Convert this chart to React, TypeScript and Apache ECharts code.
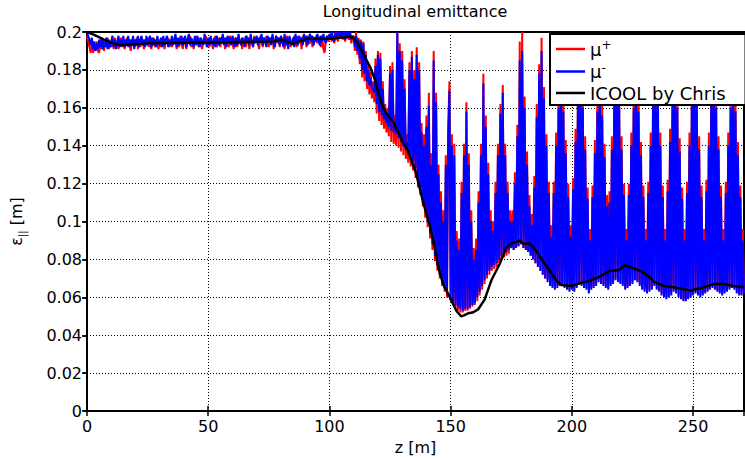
import React, { useEffect, useRef } from "react";
import * as echarts from "echarts";

const FONT = "DejaVu Sans";
const Z_STEP = 0.5; // sampling step of the tracking output [m]
const X_MAX = 271;
const Y_MAX = 0.2;

// mu+ (red) emittance, one value per 0.5 m starting at z = 0
const MU_PLUS = [
  0.198, 0.195, 0.192, 0.189, 0.194, 0.189, 0.192, 0.19, 0.195, 0.19,
  0.189, 0.194, 0.191, 0.196, 0.19, 0.194, 0.192, 0.197, 0.191, 0.194,
  0.192, 0.196, 0.191, 0.197, 0.192, 0.195, 0.191, 0.194, 0.197, 0.192,
  0.196, 0.191, 0.194, 0.197, 0.192, 0.196, 0.19, 0.194, 0.197, 0.192,
  0.194, 0.197, 0.191, 0.196, 0.192, 0.197, 0.194, 0.191, 0.196, 0.194,
  0.197, 0.192, 0.195, 0.191, 0.194, 0.197, 0.192, 0.196, 0.194, 0.191,
  0.196, 0.192, 0.197, 0.194, 0.191, 0.196, 0.194, 0.197, 0.192, 0.195,
  0.192, 0.196, 0.194, 0.197, 0.191, 0.196, 0.192, 0.198, 0.194, 0.191,
  0.197, 0.194, 0.191, 0.196, 0.194, 0.198, 0.192, 0.196, 0.191, 0.197,
  0.194, 0.196, 0.192, 0.197, 0.194, 0.191, 0.196, 0.194, 0.198, 0.192,
  0.196, 0.192, 0.197, 0.194, 0.191, 0.196, 0.198, 0.192, 0.194, 0.197,
  0.192, 0.197, 0.194, 0.196, 0.191, 0.197, 0.194, 0.192, 0.198, 0.195,
  0.194, 0.191, 0.197, 0.195, 0.192, 0.198, 0.194, 0.196, 0.191, 0.197,
  0.195, 0.192, 0.198, 0.194, 0.191, 0.197, 0.195, 0.192, 0.198, 0.194,
  0.197, 0.194, 0.191, 0.198, 0.195, 0.192, 0.197, 0.194, 0.198, 0.195,
  0.192, 0.197, 0.194, 0.198, 0.191, 0.195, 0.198, 0.194, 0.197, 0.192,
  0.198, 0.194, 0.197, 0.191, 0.195, 0.198, 0.194, 0.197, 0.192, 0.195,
  0.194, 0.198, 0.195, 0.192, 0.198, 0.194, 0.197, 0.191, 0.198, 0.195,
  0.197, 0.192, 0.198, 0.195, 0.194, 0.198, 0.192, 0.197, 0.195, 0.198,
  0.194, 0.198, 0.195, 0.192, 0.198, 0.191, 0.189, 0.196, 0.198, 0.195,
  0.197, 0.199, 0.195, 0.198, 0.194, 0.2, 0.197, 0.195, 0.199, 0.198,
  0.2, 0.196, 0.199, 0.195, 0.2, 0.198, 0.196, 0.199, 0.194, 0.197,
  0.198, 0.19, 0.2, 0.188, 0.197, 0.183, 0.196, 0.176, 0.195, 0.174,
  0.19, 0.17, 0.183, 0.167, 0.179, 0.165, 0.174, 0.163, 0.186, 0.157,
  0.19, 0.153, 0.189, 0.151, 0.174, 0.149, 0.162, 0.147, 0.16, 0.145,
  0.182, 0.142, 0.184, 0.141, 0.156, 0.14, 0.2, 0.139, 0.194, 0.137,
  0.19, 0.135, 0.175, 0.133, 0.146, 0.131, 0.184, 0.129, 0.19, 0.127,
  0.18, 0.123, 0.192, 0.118, 0.184, 0.114, 0.152, 0.108, 0.146, 0.102,
  0.156, 0.097, 0.168, 0.091, 0.136, 0.085, 0.19, 0.079, 0.168, 0.074,
  0.13, 0.07, 0.116, 0.066, 0.106, 0.063, 0.135, 0.06, 0.15, 0.174,
  0.058, 0.146, 0.056, 0.141, 0.054, 0.095, 0.053, 0.091, 0.052, 0.121,
  0.052, 0.141, 0.053, 0.163, 0.053, 0.136, 0.054, 0.106, 0.055, 0.086,
  0.056, 0.091, 0.058, 0.116, 0.061, 0.141, 0.064, 0.178, 0.067, 0.156,
  0.07, 0.131, 0.072, 0.106, 0.074, 0.1, 0.075, 0.121, 0.076, 0.141,
  0.078, 0.162, 0.08, 0.172, 0.081, 0.141, 0.082, 0.121, 0.083, 0.106,
  0.086, 0.106, 0.085, 0.126, 0.086, 0.151, 0.087, 0.195, 0.088, 0.2,
  0.086, 0.166, 0.085, 0.137, 0.084, 0.114, 0.082, 0.104, 0.08, 0.124,
  0.078, 0.162, 0.076, 0.183, 0.074, 0.197, 0.072, 0.171, 0.07, 0.146,
  0.069, 0.121, 0.067, 0.098, 0.066, 0.121, 0.065, 0.147, 0.066, 0.167,
  0.067, 0.186, 0.067, 0.165, 0.066, 0.143, 0.065, 0.12, 0.064, 0.098,
  0.065, 0.123, 0.064, 0.149, 0.066, 0.172, 0.068, 0.191, 0.067, 0.167,
  0.066, 0.145, 0.065, 0.118, 0.063, 0.096, 0.065, 0.119, 0.066, 0.143,
  0.067, 0.165, 0.069, 0.186, 0.068, 0.163, 0.067, 0.141, 0.066, 0.114,
  0.065, 0.116, 0.067, 0.145, 0.068, 0.172, 0.07, 0.196, 0.069, 0.169,
  0.068, 0.145, 0.067, 0.12, 0.065, 0.096, 0.066, 0.12, 0.067, 0.147,
  0.068, 0.167, 0.07, 0.186, 0.069, 0.165, 0.067, 0.142, 0.065, 0.119,
  0.064, 0.096, 0.063, 0.121, 0.064, 0.147, 0.065, 0.172, 0.067, 0.196,
  0.065, 0.169, 0.064, 0.147, 0.062, 0.119, 0.061, 0.096, 0.06, 0.122,
  0.061, 0.149, 0.062, 0.169, 0.064, 0.191, 0.063, 0.167, 0.061, 0.144,
  0.06, 0.118, 0.059, 0.096, 0.059, 0.121, 0.06, 0.147, 0.061, 0.172,
  0.062, 0.196, 0.063, 0.169, 0.062, 0.145, 0.061, 0.119, 0.062, 0.096,
  0.063, 0.122, 0.064, 0.147, 0.065, 0.17, 0.066, 0.191, 0.065, 0.167,
  0.064, 0.145, 0.063, 0.119, 0.062, 0.096, 0.063, 0.121, 0.064, 0.147,
  0.065, 0.167, 0.066, 0.186, 0.065, 0.165, 0.063, 0.142, 0.062, 0.119,
  0.062, 0.096, 0.063,
];

// mu- (blue) emittance, one value per 0.5 m starting at z = 0
const MU_MINUS = [
  0.199, 0.198, 0.196, 0.193, 0.197, 0.191, 0.195, 0.19, 0.194, 0.191,
  0.196, 0.192, 0.197, 0.191, 0.195, 0.192, 0.197, 0.191, 0.196, 0.192,
  0.195, 0.198, 0.192, 0.196, 0.191, 0.195, 0.198, 0.192, 0.196, 0.193,
  0.198, 0.192, 0.196, 0.193, 0.198, 0.192, 0.196, 0.193, 0.198, 0.191,
  0.196, 0.193, 0.198, 0.192, 0.196, 0.198, 0.193, 0.196, 0.192, 0.198,
  0.193, 0.196, 0.198, 0.192, 0.197, 0.193, 0.196, 0.192, 0.198, 0.194,
  0.193, 0.197, 0.192, 0.198, 0.193, 0.196, 0.198, 0.192, 0.196, 0.193,
  0.198, 0.193, 0.196, 0.199, 0.192, 0.197, 0.193, 0.196, 0.198, 0.193,
  0.196, 0.198, 0.192, 0.196, 0.199, 0.193, 0.197, 0.195, 0.192, 0.198,
  0.193, 0.198, 0.195, 0.192, 0.197, 0.195, 0.193, 0.199, 0.195, 0.192,
  0.197, 0.193, 0.198, 0.195, 0.193, 0.197, 0.192, 0.198, 0.195, 0.193,
  0.197, 0.195, 0.199, 0.193, 0.197, 0.192, 0.198, 0.195, 0.197, 0.193,
  0.198, 0.195, 0.192, 0.197, 0.193, 0.199, 0.195, 0.193, 0.197, 0.195,
  0.192, 0.198, 0.195, 0.197, 0.193, 0.199, 0.195, 0.192, 0.197, 0.195,
  0.198, 0.193, 0.197, 0.195, 0.199, 0.193, 0.197, 0.195, 0.192, 0.198,
  0.195, 0.197, 0.193, 0.199, 0.195, 0.192, 0.198, 0.195, 0.197, 0.193,
  0.198, 0.195, 0.192, 0.199, 0.193, 0.197, 0.191, 0.198, 0.195, 0.193,
  0.197, 0.192, 0.199, 0.195, 0.193, 0.198, 0.195, 0.197, 0.193, 0.199,
  0.195, 0.198, 0.193, 0.197, 0.199, 0.195, 0.198, 0.193, 0.197, 0.195,
  0.199, 0.196, 0.193, 0.198, 0.195, 0.199, 0.196, 0.194, 0.198, 0.196,
  0.199, 0.196, 0.2, 0.197, 0.195, 0.2, 0.197, 0.199, 0.2, 0.197,
  0.2, 0.198, 0.2, 0.196, 0.2, 0.2, 0.197, 0.2, 0.196, 0.198,
  0.197, 0.192, 0.198, 0.19, 0.196, 0.186, 0.195, 0.18, 0.194, 0.178,
  0.188, 0.174, 0.18, 0.172, 0.176, 0.17, 0.17, 0.168, 0.182, 0.162,
  0.188, 0.158, 0.186, 0.156, 0.17, 0.154, 0.158, 0.152, 0.156, 0.15,
  0.178, 0.148, 0.18, 0.147, 0.152, 0.146, 0.2, 0.144, 0.19, 0.142,
  0.185, 0.14, 0.17, 0.138, 0.142, 0.136, 0.18, 0.134, 0.187, 0.132,
  0.175, 0.128, 0.188, 0.122, 0.18, 0.118, 0.147, 0.112, 0.14, 0.106,
  0.15, 0.1, 0.161, 0.094, 0.13, 0.088, 0.185, 0.082, 0.163, 0.077,
  0.125, 0.072, 0.11, 0.068, 0.1, 0.065, 0.13, 0.062, 0.145, 0.169,
  0.06, 0.14, 0.058, 0.135, 0.056, 0.09, 0.055, 0.085, 0.054, 0.115,
  0.053, 0.135, 0.054, 0.158, 0.054, 0.13, 0.055, 0.1, 0.056, 0.08,
  0.057, 0.085, 0.06, 0.11, 0.063, 0.135, 0.066, 0.173, 0.069, 0.15,
  0.072, 0.125, 0.074, 0.1, 0.076, 0.095, 0.077, 0.115, 0.078, 0.135,
  0.08, 0.157, 0.082, 0.168, 0.083, 0.135, 0.084, 0.115, 0.085, 0.1,
  0.086, 0.1, 0.085, 0.12, 0.086, 0.145, 0.087, 0.185, 0.088, 0.19,
  0.086, 0.16, 0.085, 0.13, 0.084, 0.108, 0.082, 0.098, 0.08, 0.118,
  0.078, 0.155, 0.076, 0.178, 0.074, 0.19, 0.072, 0.165, 0.07, 0.14,
  0.068, 0.115, 0.066, 0.092, 0.065, 0.115, 0.064, 0.14, 0.065, 0.16,
  0.066, 0.18, 0.066, 0.158, 0.065, 0.136, 0.064, 0.113, 0.063, 0.092,
  0.064, 0.117, 0.063, 0.142, 0.065, 0.165, 0.067, 0.185, 0.066, 0.16,
  0.065, 0.138, 0.064, 0.112, 0.062, 0.09, 0.064, 0.113, 0.065, 0.136,
  0.066, 0.158, 0.068, 0.18, 0.067, 0.156, 0.066, 0.134, 0.065, 0.108,
  0.064, 0.11, 0.066, 0.138, 0.067, 0.165, 0.069, 0.19, 0.068, 0.162,
  0.067, 0.138, 0.066, 0.114, 0.064, 0.09, 0.065, 0.114, 0.066, 0.14,
  0.067, 0.16, 0.069, 0.18, 0.068, 0.158, 0.066, 0.135, 0.064, 0.113,
  0.063, 0.09, 0.062, 0.115, 0.063, 0.14, 0.064, 0.165, 0.066, 0.19,
  0.064, 0.162, 0.063, 0.14, 0.061, 0.113, 0.06, 0.09, 0.059, 0.116,
  0.06, 0.142, 0.061, 0.162, 0.063, 0.185, 0.062, 0.16, 0.06, 0.137,
  0.059, 0.112, 0.058, 0.09, 0.058, 0.115, 0.059, 0.14, 0.06, 0.165,
  0.061, 0.19, 0.062, 0.162, 0.061, 0.138, 0.06, 0.113, 0.061, 0.09,
  0.062, 0.116, 0.063, 0.14, 0.064, 0.163, 0.065, 0.185, 0.064, 0.16,
  0.063, 0.138, 0.062, 0.113, 0.061, 0.09, 0.062, 0.115, 0.063, 0.14,
  0.064, 0.16, 0.065, 0.18, 0.064, 0.158, 0.062, 0.135, 0.061, 0.113,
  0.061, 0.09, 0.062,
];

// ICOOL reference curve (black)
const ICOOL_Z = [
  0, 3, 7, 11, 14, 20, 25, 35, 45, 52, 60, 70, 77, 79.8, 82, 85, 87, 90.7, 96,
  101.6, 104.4, 107, 108.5, 110.6, 113.4, 116.8, 118.8, 120.2, 121.6, 123.6,
  126.4, 128.4, 130.5, 132.5, 133.9, 135.7, 138.7, 141.4, 143.5, 144.9, 146.9,
  149.7, 152.4, 154.4, 155.5, 157.2, 159, 161.3, 164, 166.8, 170.2, 173, 175,
  177.1, 178.5, 179.8, 182.6, 185.3, 188, 190.8, 193.5, 195.6, 199.7, 203.1,
  207.2, 211.3, 215.5, 219.6, 221.6, 225, 229.1, 231.9, 233.9, 238, 242.1,
  246.2, 249, 253.1, 258.6, 262.7, 266.8, 271,
];
const ICOOL_EMIT = [
  0.2, 0.1985, 0.196, 0.194, 0.193, 0.1935, 0.194, 0.1942, 0.1944, 0.1945,
  0.1946, 0.1948, 0.195, 0.1959, 0.1952, 0.1938, 0.1948, 0.1964, 0.1964,
  0.1966, 0.197, 0.1972, 0.1978, 0.196, 0.19, 0.1815, 0.1748, 0.1678, 0.1618,
  0.1567, 0.1524, 0.1472, 0.1413, 0.137, 0.1318, 0.1258, 0.11, 0.098, 0.086,
  0.076, 0.067, 0.06, 0.0528, 0.05, 0.0505, 0.0516, 0.052, 0.0536, 0.0588,
  0.069, 0.0776, 0.0862, 0.0885, 0.0893, 0.09, 0.0883, 0.0885, 0.0845, 0.0793,
  0.0742, 0.069, 0.0665, 0.066, 0.0673, 0.0687, 0.0708, 0.0739, 0.0745,
  0.0768, 0.0756, 0.0734, 0.0708, 0.0682, 0.066, 0.0653, 0.0643, 0.0636,
  0.0648, 0.067, 0.067, 0.066, 0.0653,
];

const SERIES_NAMES = ["μ+", "μ-", "ICOOL by Chris"];

const toPoints = (vals: number[]) => vals.map((v, i) => [i * Z_STEP, v]);

export default function App() {
  const ref = useRef<HTMLDivElement>(null);

  useEffect(() => {
    if (!ref.current) return;
    const chart = echarts.init(ref.current, null, { renderer: "svg" });
    const axisLine = { show: true, lineStyle: { color: "#000", width: 2 } };
    const split = {
      show: true,
      lineStyle: { color: "#000", width: 1, type: [1, 2] as any },
    };
    const option: any = {
      animation: false,
      backgroundColor: "#fff",
      textStyle: { fontFamily: FONT },
      title: {
        text: "Longitudinal emittance",
        left: 415,
        top: 3,
        textAlign: "center",
        padding: 0,
        textStyle: { fontSize: 16, fontWeight: "normal", color: "#000", fontFamily: FONT },
      },
      grid: {
        left: 86,
        right: 1,
        top: 32,
        bottom: 39,
        show: true,
        borderColor: "#000",
        borderWidth: 2,
        backgroundColor: "transparent",
      },
      legend: {
        orient: "vertical",
        left: 550,
        top: 34,
        data: SERIES_NAMES,
        icon: "rect",
        itemWidth: 29,
        itemHeight: 2.5,
        itemGap: 3.5,
        padding: [5, 20, 3, 6],
        backgroundColor: "#fff",
        borderColor: "#000",
        borderWidth: 2,
        borderRadius: 0,
        selectedMode: false,
        formatter: (name: string) =>
          name === "μ+" ? "{t|μ}{s|+}" : name === "μ-" ? "{t|μ}{s|-}" : "{t|" + name + "}",
        textStyle: {
          color: "#000",
          fontFamily: FONT,
          fontSize: 18,
          rich: {
            t: { fontSize: 18, lineHeight: 20, fontFamily: FONT, color: "#000" },
            s: { fontSize: 12, lineHeight: 12, verticalAlign: "top", fontFamily: FONT, color: "#000" },
          },
        },
      },
      xAxis: [
        {
          type: "value",
          min: 0,
          max: X_MAX,
          interval: 50,
          position: "bottom",
          name: "z [m]",
          nameLocation: "middle",
          nameGap: 22,
          nameTextStyle: { fontSize: 16, color: "#000", fontFamily: FONT },
          axisLine,
          axisTick: { show: true, inside: true, length: 5, lineStyle: { color: "#000", width: 1.5 } },
          axisLabel: { color: "#000", fontSize: 16, margin: 7, fontFamily: FONT, showMaxLabel: false },
          splitLine: split,
        },
        {
          type: "value",
          min: 0,
          max: X_MAX,
          interval: 50,
          position: "top",
          axisLine,
          axisTick: { show: true, inside: true, length: 5, lineStyle: { color: "#000", width: 1.5 } },
          axisLabel: { show: false },
          splitLine: { show: false },
        },
      ],
      yAxis: [
        {
          type: "value",
          min: 0,
          max: Y_MAX,
          interval: 0.02,
          position: "left",
          name: "{e|ε}{s|||}{e| [m]}",
          nameLocation: "middle",
          nameRotate: 90,
          nameGap: 60,
          nameTextStyle: {
            color: "#000",
            fontFamily: FONT,
            fontSize: 16,
            rich: {
              e: { fontSize: 16, lineHeight: 22, fontFamily: FONT, color: "#000" },
              s: { fontSize: 10, lineHeight: 10, verticalAlign: "bottom", fontFamily: FONT, color: "#000" },
            },
          },
          axisLine,
          axisTick: { show: true, inside: false, length: 4, lineStyle: { color: "#000", width: 1.5 } },
          axisLabel: { color: "#000", fontSize: 16, margin: 5, fontFamily: FONT },
          splitLine: split,
        },
        {
          type: "value",
          min: 0,
          max: Y_MAX,
          interval: 0.02,
          position: "right",
          axisLine,
          axisTick: { show: true, inside: true, length: 5, lineStyle: { color: "#000", width: 1.5 } },
          axisLabel: { show: false },
          splitLine: { show: false },
        },
      ],
      series: [
        {
          name: "μ+",
          type: "line",
          data: toPoints(MU_PLUS),
          showSymbol: false,
          symbol: "none",
          progressive: 0,
          color: "#ff0000",
          lineStyle: { color: "#ff0000", width: 2 },
          z: 2,
        },
        {
          name: "μ-",
          type: "line",
          data: toPoints(MU_MINUS),
          showSymbol: false,
          symbol: "none",
          progressive: 0,
          color: "#0000ff",
          lineStyle: { color: "#0000ff", width: 2 },
          z: 3,
        },
        {
          name: "ICOOL by Chris",
          type: "line",
          data: ICOOL_Z.map((z, i) => [z, ICOOL_EMIT[i]]),
          showSymbol: false,
          symbol: "none",
          color: "#000",
          lineStyle: { color: "#000", width: 2.5 },
          z: 4,
        },
      ],
    };
    chart.setOption(option);
    return () => chart.dispose();
  }, []);

  return (
    <div
      ref={ref}
      style={{ position: "fixed", left: 0, top: 0, width: 745, height: 460, background: "#fff" }}
    />
  );
}
